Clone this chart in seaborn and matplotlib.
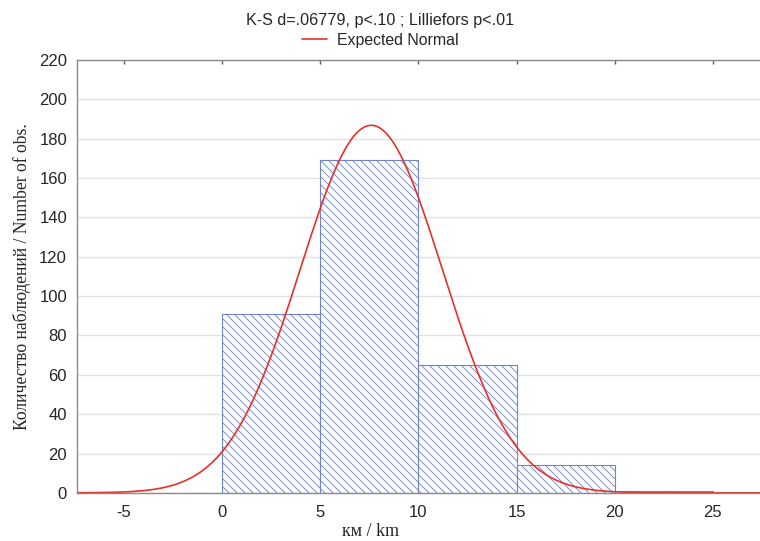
import numpy as np
import pandas as pd
import seaborn as sns
import matplotlib.pyplot as plt
import matplotlib.colors as mcolors

# histogram bins (km) and counts
bin_edges = [0, 5, 10, 15, 20, 25]
counts = [91, 169, 65, 14, 1]

# expected normal fitted by the original program
n_obs = sum(counts)
mean_km = 7.6
sd_km = 3.63
bin_width = 5

title = "K-S d=.06779, p<.10 ; Lilliefors p<.01"
legend_label = "Expected Normal"
xlabel = "км / km"
ylabel = "Количество наблюдений / Number of obs."
xticks = [-5, 0, 5, 10, 15, 20, 25]
yticks = list(range(0, 221, 20))

bar_edge = "#7184c8"
hatch_col = "#7a8bcb"

# 120 dpi so the hatch spacing lands on whole pixels; sizes scaled to match
DPI = 120
k = 100 / DPI


def make_plot(filename):
    sns.set_style("white")
    plt.rcParams["font.family"] = ["Liberation Sans", "DejaVu Sans"]
    plt.rcParams["axes.unicode_minus"] = False
    plt.rcParams["hatch.linewidth"] = 0.55
    plt.rcParams["hatch.color"] = hatch_col

    fig = plt.figure(figsize=(760 / DPI, 541 / DPI), dpi=DPI)
    ax = fig.add_axes([0.101, 0.089, 0.899, 0.8])

    df = pd.DataFrame({"km": bin_edges[:-1], "n": counts})
    sns.histplot(data=df, x="km", weights="n", bins=bin_edges, ax=ax,
                 color="white", edgecolor=bar_edge, linewidth=0.8 * k,
                 hatch="\\\\\\\\\\", alpha=1)
    for p in ax.patches:
        p.set_edgecolor(bar_edge)
        p._hatch_color = mcolors.to_rgba(hatch_col)

    # expected normal curve scaled to counts per bin
    xs = np.linspace(-8, 28, 400)
    ys = n_obs * bin_width / (sd_km * np.sqrt(2 * np.pi)) * np.exp(-0.5 * ((xs - mean_km) / sd_km) ** 2)
    sns.lineplot(x=xs, y=ys, ax=ax, color="#e8302a", linewidth=1.2 * k, label=legend_label)

    ax.set_xlim(-7.4, 27.4)
    ax.set_ylim(0, 220)
    ax.set_xticks(xticks)
    ax.set_yticks(yticks)
    ax.yaxis.grid(True, color="#e2e2e2", linewidth=1 * k)
    ax.set_axisbelow(True)
    ax.tick_params(labelsize=12 * k, direction="in", length=3 * k, width=k, color="#555555")
    ax.tick_params(axis="x", pad=8.5 * k, top=True)
    ax.tick_params(axis="y", pad=7 * k)
    for s in ["left", "bottom", "top"]:
        ax.spines[s].set_color("#8a8a8a")
        ax.spines[s].set_linewidth(1 * k)
    ax.spines["right"].set_visible(False)

    ax.set_xlabel(xlabel, family=["Liberation Serif", "DejaVu Serif"], fontsize=13 * k)
    ax.xaxis.set_label_coords(0.43, -0.07)
    ax.set_ylabel(ylabel, family=["Liberation Serif", "DejaVu Serif"], fontsize=12.7 * k, labelpad=6 * k)

    fig.text(0.5, 0.962, title, ha="center", va="center", fontsize=11.6 * k)
    ax.legend(loc="center", bbox_to_anchor=(0.5, 0.926), bbox_transform=fig.transFigure,
              frameon=False, fontsize=11.4 * k, handlelength=1.6, handletextpad=0.6)

    fig.savefig(filename, dpi=DPI)


make_plot("out.png")
